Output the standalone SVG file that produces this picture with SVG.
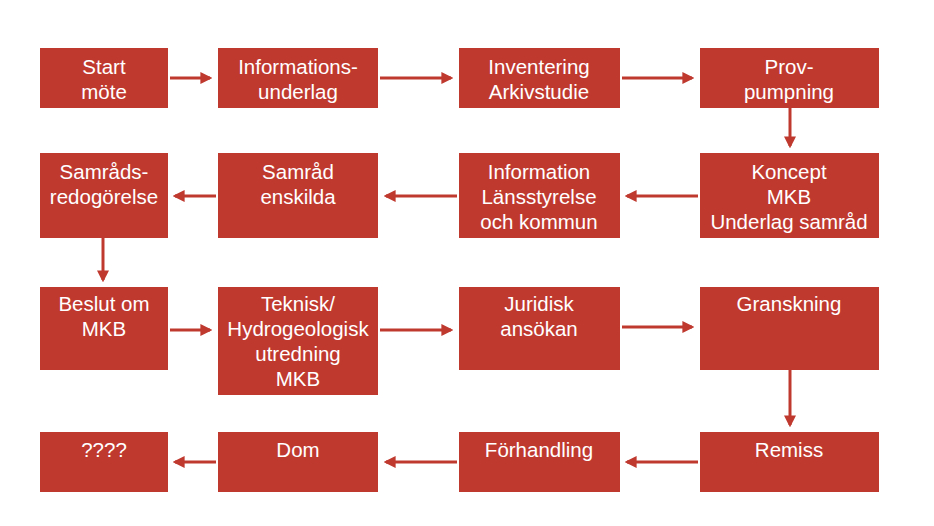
<svg xmlns="http://www.w3.org/2000/svg" width="934" height="526" viewBox="0 0 934 526">
<defs>
<style>
.b{fill:#C0392F}
.t{fill:#fff;font-family:"Liberation Sans",Arial,sans-serif;font-size:20.5px;text-anchor:middle}
.c{stroke:#C0392F;stroke-width:3;fill:none;marker-end:url(#a)}
</style>
<marker id="a" markerWidth="4" markerHeight="4" refX="3.2" refY="2" orient="auto"><path d="M0,0L4,2L0,4z" fill="#C0392F"/></marker>
</defs>
<rect width="934" height="526" fill="#fff"/>
<g id="n1"><rect class="b" x="40" y="48" width="128" height="60"/><text class="t" x="104" y="74">Start</text><text class="t" x="104" y="99">möte</text></g>
<g id="n2"><rect class="b" x="218" y="48" width="160" height="60"/><text class="t" x="298" y="74">Informations-</text><text class="t" x="298" y="99">underlag</text></g>
<g id="n3"><rect class="b" x="459" y="48" width="161" height="60"/><text class="t" x="539" y="74">Inventering</text><text class="t" x="539" y="99">Arkivstudie</text></g>
<g id="n4"><rect class="b" x="700" y="48" width="179" height="60"/><text class="t" x="789" y="74">Prov-</text><text class="t" x="789" y="99">pumpning</text></g>
<g id="n5"><rect class="b" x="40" y="153" width="128" height="85"/><text class="t" x="104" y="179">Samråds-</text><text class="t" x="104" y="204">redogörelse</text></g>
<g id="n6"><rect class="b" x="218" y="153" width="160" height="85"/><text class="t" x="298" y="179">Samråd</text><text class="t" x="298" y="204">enskilda</text></g>
<g id="n7"><rect class="b" x="459" y="153" width="161" height="85"/><text class="t" x="539" y="179">Information</text><text class="t" x="539" y="204">Länsstyrelse</text><text class="t" x="539" y="229">och kommun</text></g>
<g id="n8"><rect class="b" x="700" y="153" width="179" height="85"/><text class="t" x="789" y="179">Koncept</text><text class="t" x="789" y="204">MKB</text><text class="t" x="789" y="229">Underlag samråd</text></g>
<g id="n9"><rect class="b" x="40" y="287" width="128" height="83"/><text class="t" x="104" y="311">Beslut om</text><text class="t" x="104" y="336">MKB</text></g>
<g id="n10"><rect class="b" x="218" y="287" width="160" height="108"/><text class="t" x="298" y="311">Teknisk/</text><text class="t" x="298" y="336">Hydrogeologisk</text><text class="t" x="298" y="361">utredning</text><text class="t" x="298" y="386">MKB</text></g>
<g id="n11"><rect class="b" x="459" y="287" width="161" height="83"/><text class="t" x="539" y="311">Juridisk</text><text class="t" x="539" y="336">ansökan</text></g>
<g id="n12"><rect class="b" x="700" y="287" width="179" height="83"/><text class="t" x="789" y="311">Granskning</text></g>
<g id="n13"><rect class="b" x="40" y="432" width="128" height="60"/><text class="t" x="104" y="457">????</text></g>
<g id="n14"><rect class="b" x="218" y="432" width="160" height="60"/><text class="t" x="298" y="457">Dom</text></g>
<g id="n15"><rect class="b" x="459" y="432" width="161" height="60"/><text class="t" x="539" y="457">Förhandling</text></g>
<g id="n16"><rect class="b" x="700" y="432" width="179" height="60"/><text class="t" x="789" y="457">Remiss</text></g>
<g id="connectors">
<path class="c" d="M170,78H210"/><path class="c" d="M380,78H451"/><path class="c" d="M622,78H692"/>
<path class="c" d="M790,108V146"/>
<path class="c" d="M698,196H627"/><path class="c" d="M457,196H386"/><path class="c" d="M216,196H175"/>
<path class="c" d="M103,238V280"/>
<path class="c" d="M170,330H210"/><path class="c" d="M380,330H451"/><path class="c" d="M622,327H692"/>
<path class="c" d="M790,370V425"/>
<path class="c" d="M698,462H627"/><path class="c" d="M457,462H386"/><path class="c" d="M216,462H175"/>
</g>
</svg>
